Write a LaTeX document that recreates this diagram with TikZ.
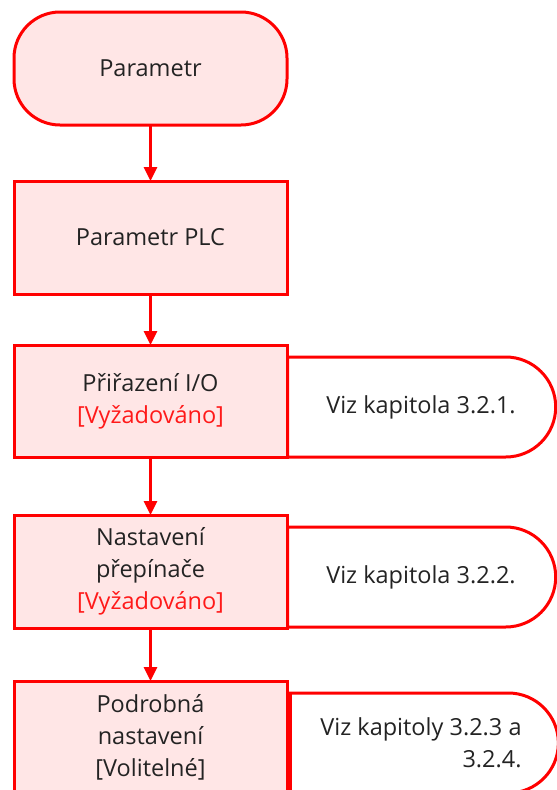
\documentclass[tikz,border=0pt]{standalone}
\usepackage{fontspec}
\setmainfont{Open Sans}
\usetikzlibrary{shapes.misc,arrows.meta}
\definecolor{redline}{RGB}{255,0,0}
\definecolor{pinkfill}{RGB}{255,230,230}
\definecolor{txt}{RGB}{35,35,35}
\definecolor{redtxt}{RGB}{255,25,25}
\newcommand{\req}{\textcolor{redtxt}{[Vyžadováno]}}
\begin{document}
\begin{tikzpicture}[x=1pt,y=-1pt,
  every node/.style={font=\fontsize{23.5}{32}\selectfont, text=txt, inner sep=0pt, outer sep=0pt},
  stepbox/.style={draw=redline, line width=3pt, fill=pinkfill, minimum width=273pt, minimum height=113pt, align=center},
  termbox/.style={stepbox, rounded corners=46pt},
  callout/.style={draw=redline, line width=3pt, fill=white, rounded rectangle, rounded rectangle left arc=none, minimum width=268pt, minimum height=100pt, align=center},
  flow/.style={draw=redline, line width=3pt, -{Triangle[length=14pt,width=13pt]}}
]
\useasboundingbox (0,0) rectangle (557,790);
\clip (0,0) rectangle (557,790);
% callouts (behind boxes)
\node[callout] (c3) at (421,407) {Viz kapitola 3.2.1.};
\node[callout] (c4) at (421,577) {Viz kapitola 3.2.2.};
\node[callout, align=right] (c5) at (421,743) {Viz kapitoly 3.2.3 a\\3.2.4.};
% main flow
\node[termbox] (t) at (150.5,68.5) {Parametr};
\node[stepbox] (b2) at (150.5,237.5) {Parametr PLC};
\node[stepbox, minimum height=112pt] (b3) at (150.5,401) {Přiřazení I/O\\\req};
\node[stepbox] (b4) at (150.5,571.5) {Nastavení\\přepínače\\\req};
\node[stepbox] (b5) at (150.5,737.5) {Podrobná\\nastavení\\[0pt][Volitelné]};
\draw[flow] (t) -- (b2);
\draw[flow] (b2) -- (b3);
\draw[flow] (b3) -- (b4);
\draw[flow] (b4) -- (b5);
\end{tikzpicture}
\end{document}
